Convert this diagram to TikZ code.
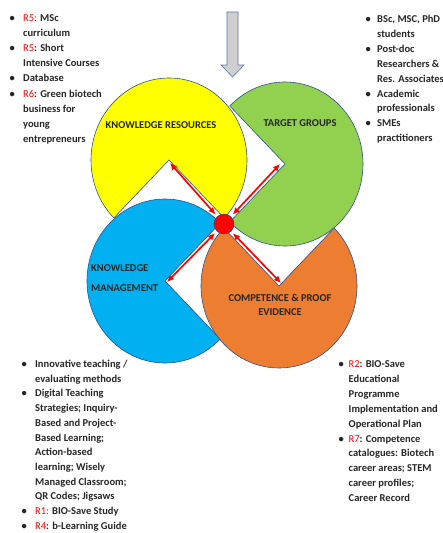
\documentclass[tikz,border=0pt]{standalone}
\usepackage{fontspec}
\setmainfont{Carlito}
\usetikzlibrary{arrows.meta}
\definecolor{kyellow}{HTML}{FFFF00}
\definecolor{kgreen}{HTML}{92D050}
\definecolor{kblue}{HTML}{00B0F0}
\definecolor{korange}{HTML}{ED7D31}
\definecolor{edgeblue}{HTML}{2F528F}
\definecolor{txt}{HTML}{262626}
\definecolor{rred}{HTML}{FF0000}
\definecolor{arrowgray}{HTML}{D0CECE}
\newcommand\rr[1]{{\color{rred}\mdseries #1}}
\begin{document}
\begin{tikzpicture}[x=1pt,y=-1pt,
  pac/.style={draw=edgeblue,line width=0.6pt,line join=miter},
  lbl/.style={font=\fontsize{10.5}{14}\selectfont\bfseries,text=txt,inner sep=0pt,align=center},
  lst/.style={text=txt,inner sep=0pt,anchor=base west,align=left},
  link/.style={draw=rred,line width=1.7pt,{Latex[length=7pt,width=6.5pt]}-{Latex[length=7pt,width=6.5pt]}},
]
\useasboundingbox (0,0) rectangle (443,533);

% pacman shapes
\fill[kyellow,pac] (169,160) -- +(135:78 and 82) arc[start angle=135,end angle=405,x radius=78,y radius=82] -- cycle;
\fill[kgreen,pac] (285,164) -- +(225:78 and 82) arc[start angle=225,end angle=495,x radius=78,y radius=82] -- cycle;
\fill[kblue,pac] (165,281) -- +(45:78 and 82) arc[start angle=45,end angle=315,x radius=78,y radius=82] -- cycle;
\fill[korange,pac] (279,286) -- +(315:78 and 82) arc[start angle=315,end angle=585,x radius=78,y radius=82] -- cycle;

% gray arrow
\draw[draw=edgeblue!80,fill=arrowgray,line width=0.6pt,line join=miter] (227,12) -- (238,12) -- (238,65) -- (244,65) -- (232.5,77) -- (221,65) -- (227,65) -- cycle;

% hub and links
\node[circle,fill=rred,draw=edgeblue,line width=0.6pt,minimum size=20pt,inner sep=0pt] (hub) at (224,224) {};
\coordinate (yv) at (170,163);
\coordinate (gv) at (280,164);
\coordinate (bv) at (167,282);
\coordinate (ov) at (281,283);
\draw[link,shorten <=2.5pt] (hub) -- (yv);
\draw[link,shorten <=2.5pt] (hub) -- (gv);
\draw[link,shorten <=2.5pt] (hub) -- (bv);
\draw[link,shorten <=2.5pt] (hub) -- (ov);

% labels
\node[lbl] (kr) at (161,125) {KNOWLEDGE RESOURCES};
\node[lbl] (tg) at (300,123) {TARGET GROUPS};
\node[lbl,align=left,anchor=west,font=\fontsize{10.5}{20}\selectfont\bfseries] (km) at (91,278) {KNOWLEDGE\\MANAGEMENT};
\node[lbl] (cp) at (280,305) {COMPETENCE \& PROOF\\EVIDENCE};

% lists
\node[lst,font=\fontsize{10.5}{15.1}\selectfont\bfseries] (tl) at (9.5,21.5) {\begin{tabular}[t]{@{}p{13.5pt}@{}l@{}}
\textbullet & \rr{R5:} MSc\\
 & curriculum\\
\textbullet & \rr{R5}: Short\\
 & Intensive Courses\\
\textbullet & Database\\
\textbullet & \rr{R6}: Green biotech\\
 & business for\\
 & young\\
 & entrepreneurs
\end{tabular}};

\node[lst,font=\fontsize{10.5}{14.9}\selectfont\bfseries] (tr) at (365.5,22.5) {\begin{tabular}[t]{@{}p{11.5pt}@{}l@{}}
\textbullet & BSc, MSC, PhD\\
 & students\\
\textbullet & Post-doc\\
 & Researchers \&\\
 & Res. Associates\\
\textbullet & Academic\\
 & professionals\\
\textbullet & SMEs\\
 & practitioners
\end{tabular}};

\node[lst,font=\fontsize{10.5}{14.7}\selectfont\bfseries] (bl) at (21.5,367.5) {\begin{tabular}[t]{@{}p{13.5pt}@{}l@{}}
\textbullet & Innovative teaching /\\
 & evaluating methods\\
\textbullet & Digital Teaching\\
 & Strategies; Inquiry-\\
 & Based and Project-\\
 & Based Learning;\\
 & Action-based\\
 & learning; Wisely\\
 & Managed Classroom;\\
 & QR Codes; Jigsaws\\
\textbullet & \rr{R1:} BIO-Save Study\\
\textbullet & \rr{R4}: b-Learning Guide
\end{tabular}};

\node[lst,font=\fontsize{10.5}{14.9}\selectfont\bfseries] (br) at (338.5,367.5) {\begin{tabular}[t]{@{}p{10pt}@{}l@{}}
\textbullet & \rr{R2}: BIO-Save\\
 & Educational\\
 & Programme\\
 & Implementation and\\
 & Operational Plan\\
\textbullet & \rr{R7}: Competence\\
 & catalogues: Biotech\\
 & career areas; STEM\\
 & career profiles;\\
 & Career Record
\end{tabular}};
\end{tikzpicture}
\end{document}
